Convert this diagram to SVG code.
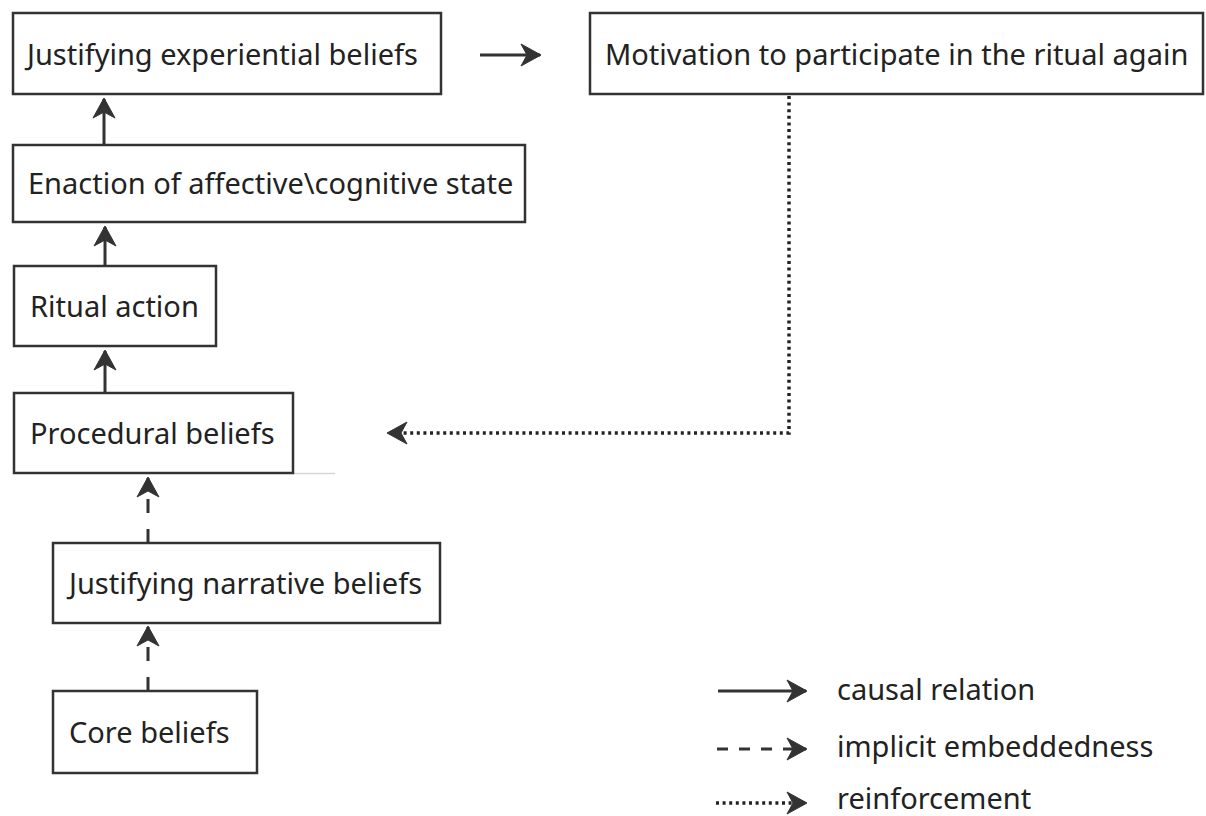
<svg xmlns="http://www.w3.org/2000/svg" width="1206" height="816" viewBox="0 0 1206 816">
<style>
.box{fill:#fff;stroke:#333;stroke-width:2.5}
.lbl{font-family:"Noto Sans","Open Sans","DejaVu Sans",sans-serif;font-size:29px;fill:#222}
.solid{fill:none;stroke:#333;stroke-width:3}
.dash{fill:none;stroke:#333;stroke-width:3;stroke-dasharray:14 16}
.dot{fill:none;stroke:#222;stroke-width:3.5;stroke-dasharray:3 3.6}
</style>
<defs>
<marker id="ah" markerUnits="userSpaceOnUse" markerWidth="26" markerHeight="26" viewBox="-21 -13 23 26" refX="0" refY="0" orient="auto">
<path d="M1,0 L-19,-11 L-13,0 L-19,11 Z" fill="#333" stroke="#333" stroke-width="1" stroke-linejoin="round"/>
</marker>
</defs>
<rect x="0" y="0" width="1206" height="816" fill="#fff"/>
<g id="connectors">
<path class="solid" d="M480,55 L540,55" marker-end="url(#ah)"/>
<path class="solid" d="M104,145 L104,99" marker-end="url(#ah)"/>
<path class="solid" d="M105,266 L105,227" marker-end="url(#ah)"/>
<path class="solid" d="M105,393 L105,351" marker-end="url(#ah)"/>
<path class="dash" d="M148,543 L148,478" marker-end="url(#ah)"/>
<path class="dash" d="M148,691 L148,627" marker-end="url(#ah)"/>
<path class="dot" d="M789,96 L789,433 L388,433" marker-end="url(#ah)"/>
<line x1="293" y1="473.5" x2="335" y2="473.5" stroke="#d6d6d6" stroke-width="1.5"/>
</g>
<g id="n1"><rect class="box" x="13" y="13" width="428" height="81"/><text class="lbl" x="27" y="65">Justifying experiential beliefs</text></g>
<g id="n2"><rect class="box" x="590" y="13" width="613" height="81"/><text class="lbl" x="605" y="65">Motivation to participate in the ritual again</text></g>
<g id="n3"><rect class="box" x="13" y="145" width="512" height="77"/><text class="lbl" x="28" y="194">Enaction of affective\cognitive state</text></g>
<g id="n4"><rect class="box" x="14" y="266" width="202" height="80"/><text class="lbl" x="30" y="317">Ritual action</text></g>
<g id="n5"><rect class="box" x="14" y="393" width="279" height="80"/><text class="lbl" x="30" y="444">Procedural beliefs</text></g>
<g id="n6"><rect class="box" x="53" y="543" width="387" height="80"/><text class="lbl" x="69" y="594">Justifying narrative beliefs</text></g>
<g id="n7"><rect class="box" x="53" y="691" width="204" height="82"/><text class="lbl" x="69" y="743">Core beliefs</text></g>
<g id="legend">
<path class="solid" d="M718,691 L806,691" marker-end="url(#ah)"/>
<text class="lbl" x="837" y="700">causal relation</text>
<path class="dash" d="M717,749 L806,749" style="stroke-dasharray:11 11" marker-end="url(#ah)"/>
<text class="lbl" x="837" y="757">implicit embeddedness</text>
<path class="dot" d="M716,803 L806,803" marker-end="url(#ah)"/>
<text class="lbl" x="837" y="809">reinforcement</text>
</g>
</svg>
